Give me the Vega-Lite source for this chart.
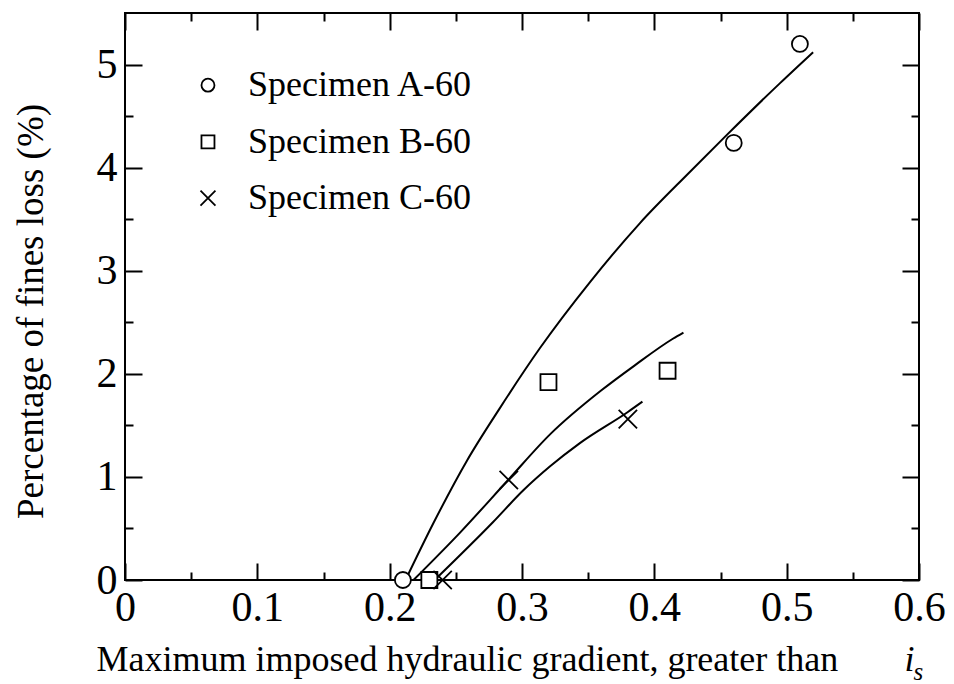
{
  "$schema": "https://vega.github.io/schema/vega-lite/v6.json",
  "width": 794,
  "height": 567,
  "autosize": "none",
  "padding": {"left": 125, "top": 13, "right": 35, "bottom": 104},
  "background": "white",
  "config": {
    "font": "Liberation Serif",
    "view": {"stroke": "black", "strokeWidth": 2},
    "axis": {"grid": false, "domain": false, "labelColor": "black", "titleColor": "black", "tickColor": "black", "labelFont": "Liberation Serif", "titleFont": "Liberation Serif", "titleFontWeight": "normal"}
  },
  "datasets": {
    "curves": [
      {"specimen": "Specimen A-60", "x": 0.212, "y": 0.0},
      {"specimen": "Specimen A-60", "x": 0.233, "y": 0.55},
      {"specimen": "Specimen A-60", "x": 0.2585, "y": 1.16},
      {"specimen": "Specimen A-60", "x": 0.2834, "y": 1.67},
      {"specimen": "Specimen A-60", "x": 0.3136, "y": 2.25},
      {"specimen": "Specimen A-60", "x": 0.3514, "y": 2.89},
      {"specimen": "Specimen A-60", "x": 0.389, "y": 3.46},
      {"specimen": "Specimen A-60", "x": 0.427, "y": 3.96},
      {"specimen": "Specimen A-60", "x": 0.455, "y": 4.32},
      {"specimen": "Specimen A-60", "x": 0.495, "y": 4.82},
      {"specimen": "Specimen A-60", "x": 0.52, "y": 5.12},
      {"specimen": "Specimen B-60", "x": 0.218, "y": 0.0},
      {"specimen": "Specimen B-60", "x": 0.2532, "y": 0.46},
      {"specimen": "Specimen B-60", "x": 0.2895, "y": 0.97},
      {"specimen": "Specimen B-60", "x": 0.321, "y": 1.41},
      {"specimen": "Specimen B-60", "x": 0.36, "y": 1.84},
      {"specimen": "Specimen B-60", "x": 0.385, "y": 2.08},
      {"specimen": "Specimen B-60", "x": 0.414, "y": 2.34},
      {"specimen": "Specimen B-60", "x": 0.422, "y": 2.4},
      {"specimen": "Specimen C-60", "x": 0.234, "y": 0.0},
      {"specimen": "Specimen C-60", "x": 0.278, "y": 0.56},
      {"specimen": "Specimen C-60", "x": 0.301, "y": 0.87},
      {"specimen": "Specimen C-60", "x": 0.321, "y": 1.1},
      {"specimen": "Specimen C-60", "x": 0.344, "y": 1.33},
      {"specimen": "Specimen C-60", "x": 0.38, "y": 1.63},
      {"specimen": "Specimen C-60", "x": 0.391, "y": 1.73}
    ],
    "points": [
      {"specimen": "Specimen A-60", "x": 0.21, "y": 0.0},
      {"specimen": "Specimen A-60", "x": 0.46, "y": 4.24},
      {"specimen": "Specimen A-60", "x": 0.51, "y": 5.2},
      {"specimen": "Specimen B-60", "x": 0.23, "y": 0.0},
      {"specimen": "Specimen B-60", "x": 0.32, "y": 1.92},
      {"specimen": "Specimen B-60", "x": 0.41, "y": 2.03},
      {"specimen": "Specimen C-60", "x": 0.24, "y": 0.0},
      {"specimen": "Specimen C-60", "x": 0.29, "y": 0.97},
      {"specimen": "Specimen C-60", "x": 0.38, "y": 1.56}
    ],
    "legend": [
      {"specimen": "Specimen A-60"},
      {"specimen": "Specimen B-60"},
      {"specimen": "Specimen C-60"}
    ]
  },
  "resolve": {"axis": {"x": "independent", "y": "independent"}},
  "layer": [
    {
      "data": {"name": "curves"},
      "transform": [{"filter": "datum.specimen === 'Specimen A-60'"}],
      "mark": {"type": "line", "color": "black", "strokeWidth": 2, "interpolate": "monotone"},
      "encoding": {
        "x": {"field": "x", "type": "quantitative",
          "scale": {"domain": [0, 0.6], "nice": false, "zero": false},
          "axis": {"orient": "bottom", "offset": -17, "values": [0, 0.1, 0.2, 0.3, 0.4, 0.5, 0.6], "format": "~g",
            "tickSize": 17, "tickWidth": 2,
            "labelFontSize": 42, "labelPadding": 7, "labelFlush": false, "labelOverlap": false,
            "title": "Maximum imposed hydraulic gradient, greater than", "titleFontSize": 36,
            "titleAlign": "left", "titleBaseline": "alphabetic", "titleX": -29, "titleY": 107}},
        "y": {"field": "y", "type": "quantitative",
          "scale": {"domain": [0, 5.5], "nice": false, "zero": false},
          "axis": {"orient": "left", "offset": -17, "values": [0, 1, 2, 3, 4, 5], "format": "d",
            "tickSize": 17, "tickWidth": 2,
            "labelFontSize": 42, "labelPadding": 8, "labelFlush": false, "labelOverlap": false,
            "title": "Percentage of fines loss (%)", "titleFontSize": 37, "titleAngle": -90,
            "titleAlign": "center", "titleBaseline": "alphabetic", "titleX": -100, "titleY": 298}}
      }
    },
    {
      "data": {"name": "curves"},
      "transform": [{"filter": "datum.specimen === 'Specimen B-60'"}],
      "mark": {"type": "line", "color": "black", "strokeWidth": 2, "interpolate": "monotone"},
      "encoding": {
        "x": {"field": "x", "type": "quantitative",
          "scale": {"domain": [0, 0.6], "nice": false, "zero": false},
          "axis": {"orient": "bottom", "offset": -8, "values": [0.05, 0.15, 0.25, 0.35, 0.45, 0.55],
            "tickSize": 8, "tickWidth": 2, "labels": false,
            "title": "i", "titleFontSize": 36, "titleFontStyle": "italic",
            "titleAlign": "left", "titleBaseline": "alphabetic", "titleX": 779, "titleY": 98}},
        "y": {"field": "y", "type": "quantitative",
          "scale": {"domain": [0, 5.5], "nice": false, "zero": false},
          "axis": {"orient": "left", "offset": -8, "values": [0.5, 1.5, 2.5, 3.5, 4.5],
            "tickSize": 8, "tickWidth": 2, "labels": false, "title": null}}
      }
    },
    {
      "data": {"name": "curves"},
      "transform": [{"filter": "datum.specimen === 'Specimen C-60'"}],
      "mark": {"type": "line", "color": "black", "strokeWidth": 2, "interpolate": "monotone"},
      "encoding": {
        "x": {"field": "x", "type": "quantitative",
          "scale": {"domain": [0, 0.6], "nice": false, "zero": false},
          "axis": {"orient": "top", "offset": -17, "values": [0, 0.1, 0.2, 0.3, 0.4, 0.5, 0.6],
            "tickSize": 17, "tickWidth": 2, "labels": false,
            "title": "s", "titleFontSize": 25, "titleFontStyle": "italic",
            "titleAlign": "left", "titleBaseline": "alphabetic", "titleX": 788, "titleY": 649}},
        "y": {"field": "y", "type": "quantitative",
          "scale": {"domain": [0, 5.5], "nice": false, "zero": false},
          "axis": {"orient": "right", "offset": -17, "values": [0, 1, 2, 3, 4, 5],
            "tickSize": 17, "tickWidth": 2, "labels": false, "title": null}}
      }
    },
    {
      "data": {"name": "points"},
      "mark": {"type": "point", "filled": false, "fill": "white", "color": "black", "strokeWidth": 1.8, "size": 256, "opacity": 1},
      "encoding": {
        "x": {"field": "x", "type": "quantitative",
          "scale": {"domain": [0, 0.6], "nice": false, "zero": false},
          "axis": {"orient": "top", "offset": -8, "values": [0.05, 0.15, 0.25, 0.35, 0.45, 0.55],
            "tickSize": 8, "tickWidth": 2, "labels": false, "title": null}},
        "y": {"field": "y", "type": "quantitative",
          "scale": {"domain": [0, 5.5], "nice": false, "zero": false},
          "axis": {"orient": "right", "offset": -8, "values": [0.5, 1.5, 2.5, 3.5, 4.5],
            "tickSize": 8, "tickWidth": 2, "labels": false, "title": null}},
        "shape": {"field": "specimen", "type": "nominal",
          "scale": {"domain": ["Specimen A-60", "Specimen B-60", "Specimen C-60"],
            "range": ["circle", "square", "M-1.15,-1.15L1.15,1.15M-1.15,1.15L1.15,-1.15"]},
          "legend": null}
      }
    },
    {
      "data": {"name": "legend"},
      "transform": [{"filter": "datum.specimen === 'Specimen A-60'"}],
      "layer": [
        {"mark": {"type": "point", "filled": false, "fill": "white", "color": "black", "strokeWidth": 1.8, "size": 169, "opacity": 1},
         "encoding": {"shape": {"field": "specimen", "type": "nominal", "legend": null}}},
        {"mark": {"type": "text", "align": "left", "baseline": "middle", "font": "Liberation Serif", "fontSize": 36, "color": "black", "dx": 40},
         "encoding": {"text": {"field": "specimen"}}}
      ],
      "encoding": {
        "x": {"datum": 0.0627, "type": "quantitative", "axis": null},
        "y": {"datum": 4.8, "type": "quantitative", "axis": null}
      }
    },
    {
      "data": {"name": "legend"},
      "transform": [{"filter": "datum.specimen === 'Specimen B-60'"}],
      "layer": [
        {"mark": {"type": "point", "filled": false, "fill": "white", "color": "black", "strokeWidth": 1.8, "size": 169, "opacity": 1},
         "encoding": {"shape": {"field": "specimen", "type": "nominal", "legend": null}}},
        {"mark": {"type": "text", "align": "left", "baseline": "middle", "font": "Liberation Serif", "fontSize": 36, "color": "black", "dx": 40},
         "encoding": {"text": {"field": "specimen"}}}
      ],
      "encoding": {
        "x": {"datum": 0.0627, "type": "quantitative", "axis": null},
        "y": {"datum": 4.25, "type": "quantitative", "axis": null}
      }
    },
    {
      "data": {"name": "legend"},
      "transform": [{"filter": "datum.specimen === 'Specimen C-60'"}],
      "layer": [
        {"mark": {"type": "point", "filled": false, "fill": "white", "color": "black", "strokeWidth": 1.8, "size": 169, "opacity": 1},
         "encoding": {"shape": {"field": "specimen", "type": "nominal", "legend": null}}},
        {"mark": {"type": "text", "align": "left", "baseline": "middle", "font": "Liberation Serif", "fontSize": 36, "color": "black", "dx": 40},
         "encoding": {"text": {"field": "specimen"}}}
      ],
      "encoding": {
        "x": {"datum": 0.0627, "type": "quantitative", "axis": null},
        "y": {"datum": 3.705, "type": "quantitative", "axis": null}
      }
    }
  ]
}
